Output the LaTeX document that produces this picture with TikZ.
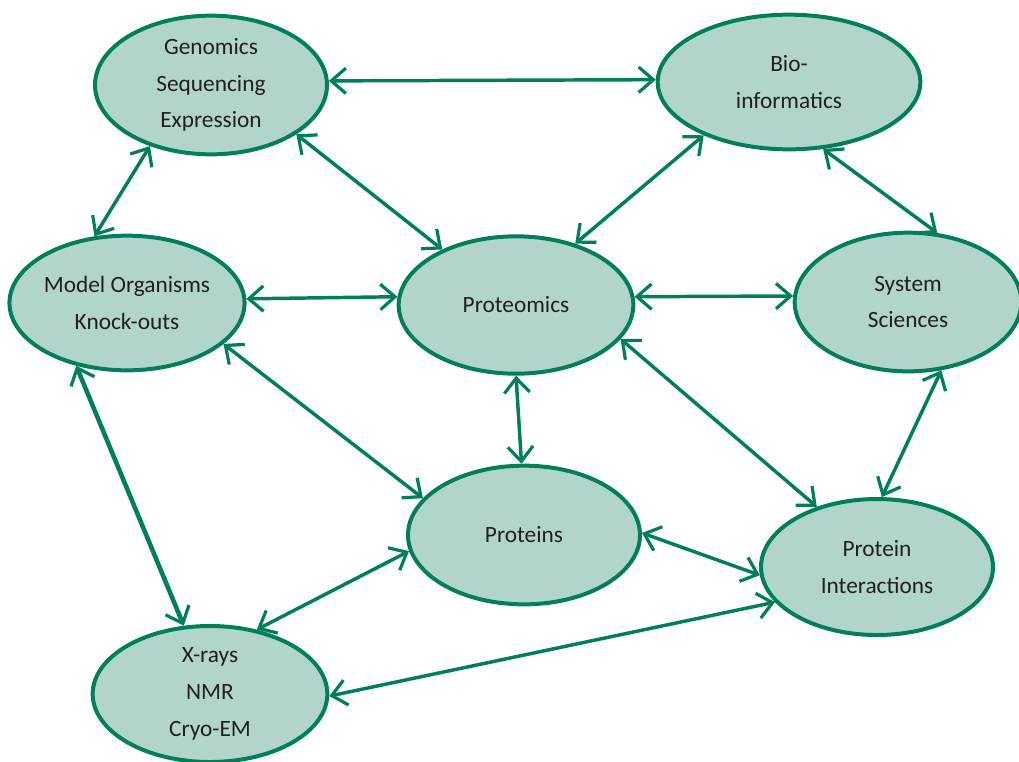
\documentclass[tikz,border=0pt]{standalone}
\usepackage{fontspec}
\setmainfont{Carlito}
\usetikzlibrary{shapes.geometric,arrows.meta}
\definecolor{ellfill}{HTML}{B2D5CB}
\definecolor{ellline}{HTML}{007F5A}
\definecolor{txt}{HTML}{231F20}
\begin{document}
\begin{tikzpicture}[x=0.75pt,y=-0.75pt,
  bub/.style={ellipse,draw=ellline,fill=ellfill,line width=3pt,inner sep=0pt,
    align=center,text=txt,font=\fontsize{17.5}{27.5}\selectfont},
  link/.style={draw=ellline,line width=2.6pt,
    {Straight Barb[length=11pt,width=19pt,line width=2.4pt]}-{Straight Barb[length=11pt,width=19pt,line width=2.4pt]}}]
\useasboundingbox (0,0) rectangle (1019,761);
\node[bub,minimum width=174pt,minimum height=104pt] (gen) at (211,85) {Genomics\\Sequencing\\Expression};
\node[bub,minimum width=197pt,minimum height=101pt] (bio) at (789,82) {Bio-\\informatics};
\node[bub,minimum width=176pt,minimum height=101pt] (mod) at (127,303) {Model Organisms\\Knock-outs};
\node[bub,minimum width=176pt,minimum height=103pt] (prm) at (516,305) {Proteomics};
\node[bub,minimum width=170pt,minimum height=104pt] (sys) at (908,302) {System\\Sciences};
\node[bub,minimum width=174pt,minimum height=104pt] (pro) at (524,535) {Proteins};
\node[bub,minimum width=174pt,minimum height=102pt] (pin) at (877,567) {Protein\\Interactions};
\node[bub,minimum width=176pt,minimum height=102pt] (xr) at (210,694) {X-rays\\NMR\\Cryo-EM};
\draw[link] (gen.2) -- (bio.179);
\draw[link] (gen.225) -- (mod.116);
\draw[link] (gen.-30) -- (prm.143);
\draw[link] (bio.212) -- (prm.46);
\draw[link] (bio.-63) -- (sys.67);
\draw[link] (mod.2.4) -- (prm.176.6);
\draw[link,line width=3.4pt] (mod.231.5) -- (xr.111.4);
\draw[link] (mod.-23.7) -- (pro.160.2);
\draw[link] (prm.4.4) -- (sys.177);
\draw[link] (prm.-90) -- (pro.92);
\draw[link] (prm.-18.1) -- (pin.135.5);
\draw[link] (sys.-64.8) -- (pin.86);
\draw[link] (pro.1) -- (pin.184);
\draw[link] (pro.188.5) -- (xr.54);
\draw[link] (xr.-1.5) -- (pin.199.3);
\end{tikzpicture}
\end{document}
